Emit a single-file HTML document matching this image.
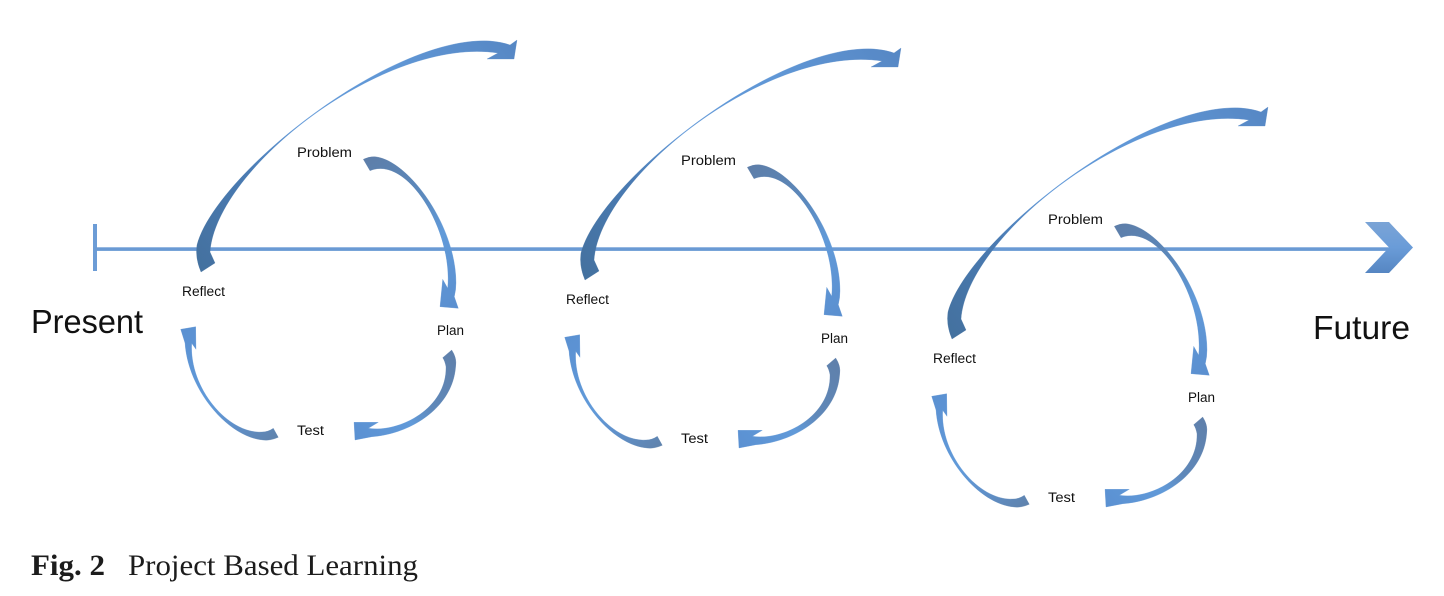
<!DOCTYPE html>
<html><head><meta charset="utf-8"><style>
html,body{margin:0;padding:0;background:#fff;width:1444px;height:596px;overflow:hidden}
svg{display:block}
.l{font-family:"Liberation Sans",sans-serif;font-size:13.5px;fill:#111}
.b{font-family:"Liberation Sans",sans-serif;font-size:33px;fill:#111}
.c{font-family:"Liberation Serif",serif;font-size:30px;fill:#1c1c1c}
</style></head><body>
<svg width="1444" height="596" viewBox="0 0 1444 596" xmlns="http://www.w3.org/2000/svg">
<defs>
<linearGradient id="big" gradientUnits="userSpaceOnUse" x1="200" y1="270" x2="515" y2="40">
<stop offset="0" stop-color="#44719f"/><stop offset=".25" stop-color="#4a7bb3"/><stop offset=".42" stop-color="#6098d8"/><stop offset=".7" stop-color="#6097d6"/><stop offset="1" stop-color="#5687c4"/></linearGradient>
<linearGradient id="s1" gradientUnits="userSpaceOnUse" x1="365" y1="160" x2="455" y2="305">
<stop offset="0" stop-color="#5d7ea9"/><stop offset=".35" stop-color="#5b89bd"/><stop offset=".6" stop-color="#619ad9"/><stop offset="1" stop-color="#5b90d0"/></linearGradient>
<linearGradient id="s2" gradientUnits="userSpaceOnUse" x1="452" y1="352" x2="356" y2="438">
<stop offset="0" stop-color="#5f80ab"/><stop offset=".4" stop-color="#5f88b9"/><stop offset=".6" stop-color="#619ad9"/><stop offset="1" stop-color="#5b91d2"/></linearGradient>
<linearGradient id="s3" gradientUnits="userSpaceOnUse" x1="278" y1="436" x2="185" y2="330">
<stop offset="0" stop-color="#5f83ad"/><stop offset=".25" stop-color="#5f8fc8"/><stop offset=".5" stop-color="#619ad9"/><stop offset="1" stop-color="#5b91d2"/></linearGradient>
<linearGradient id="chev" x1="0" y1="0" x2="0" y2="1">
<stop offset="0" stop-color="#7ba4d6"/><stop offset=".5" stop-color="#6a9cd8"/><stop offset="1" stop-color="#5686c2"/></linearGradient>
<g id="arrows" stroke-width=".3" stroke-linejoin="miter">
<path fill="url(#big)" stroke="url(#big)" d="M201 272Q195 258 197 245C215 175 390 35 490 41Q502 42 510 45L517 40L514 59L487 59L498 53C385 36 216 168 210 252L215 263Z"/>
<path fill="url(#s1)" stroke="url(#s1)" d="M363.3 159.3Q369 156.5 375 156.7C408 160 456 225 456 283Q456 290 454.3 296.7L458.3 308.3L440 306.7L442.7 279.3L447.7 288.3C453 230 407 155 370 170.7Z"/>
<path fill="url(#s2)" stroke="url(#s2)" d="M451.7 350Q457 358 455.7 366C453 408 410 434 372 436.7L355 440L354 422.3L378.3 422.3L368.3 428.3C400 433 447 408 446 366.7Q445 361 442.7 357.7Z"/>
<path fill="url(#s3)" stroke="url(#s3)" d="M278.3 437.3Q270 441 263 440C228 437 188 390 185 343L180.7 329.3L195.7 326.7L196 349.3L191.7 343.3C189 388 228 434 262 432Q268 432 273.3 428.3Z"/>
</g>
</defs>

<!-- timeline -->
<rect x="93" y="224" width="4" height="47" fill="#6c9cd6"/>
<rect x="95" y="247.3" width="1296" height="3.6" fill="#6a9ad4"/>
<polygon points="1365,222 1389,222 1413,247.5 1389,273 1365,273 1389,247.5" fill="url(#chev)"/>

<!-- group 1 -->
<g>
<use href="#arrows"/>
<text class="l" x="297" y="157" textLength="55" lengthAdjust="spacingAndGlyphs">Problem</text>
<text class="l" x="182" y="296" textLength="43" lengthAdjust="spacingAndGlyphs">Reflect</text>
<text class="l" x="437" y="335" textLength="27" lengthAdjust="spacingAndGlyphs">Plan</text>
<text class="l" x="297" y="435" textLength="27" lengthAdjust="spacingAndGlyphs">Test</text>
</g>

<!-- group 2 -->
<g transform="translate(384 8)">
<use href="#arrows"/>
<text class="l" x="297" y="157" textLength="55" lengthAdjust="spacingAndGlyphs">Problem</text>
<text class="l" x="182" y="296" textLength="43" lengthAdjust="spacingAndGlyphs">Reflect</text>
<text class="l" x="437" y="335" textLength="27" lengthAdjust="spacingAndGlyphs">Plan</text>
<text class="l" x="297" y="435" textLength="27" lengthAdjust="spacingAndGlyphs">Test</text>
</g>

<!-- group 3 -->
<g transform="translate(751 67)">
<use href="#arrows"/>
<text class="l" x="297" y="157" textLength="55" lengthAdjust="spacingAndGlyphs">Problem</text>
<text class="l" x="182" y="296" textLength="43" lengthAdjust="spacingAndGlyphs">Reflect</text>
<text class="l" x="437" y="335" textLength="27" lengthAdjust="spacingAndGlyphs">Plan</text>
<text class="l" x="297" y="435" textLength="27" lengthAdjust="spacingAndGlyphs">Test</text>
</g>

<text class="b" x="31" y="333" textLength="112" lengthAdjust="spacingAndGlyphs">Present</text>
<text class="b" x="1313" y="339" textLength="97" lengthAdjust="spacingAndGlyphs">Future</text>
<text class="c" x="31" y="575" font-weight="700" textLength="74" lengthAdjust="spacingAndGlyphs">Fig. 2</text>
<text class="c" x="128" y="575" textLength="290" lengthAdjust="spacingAndGlyphs">Project Based Learning</text>
</svg>
</body></html>
